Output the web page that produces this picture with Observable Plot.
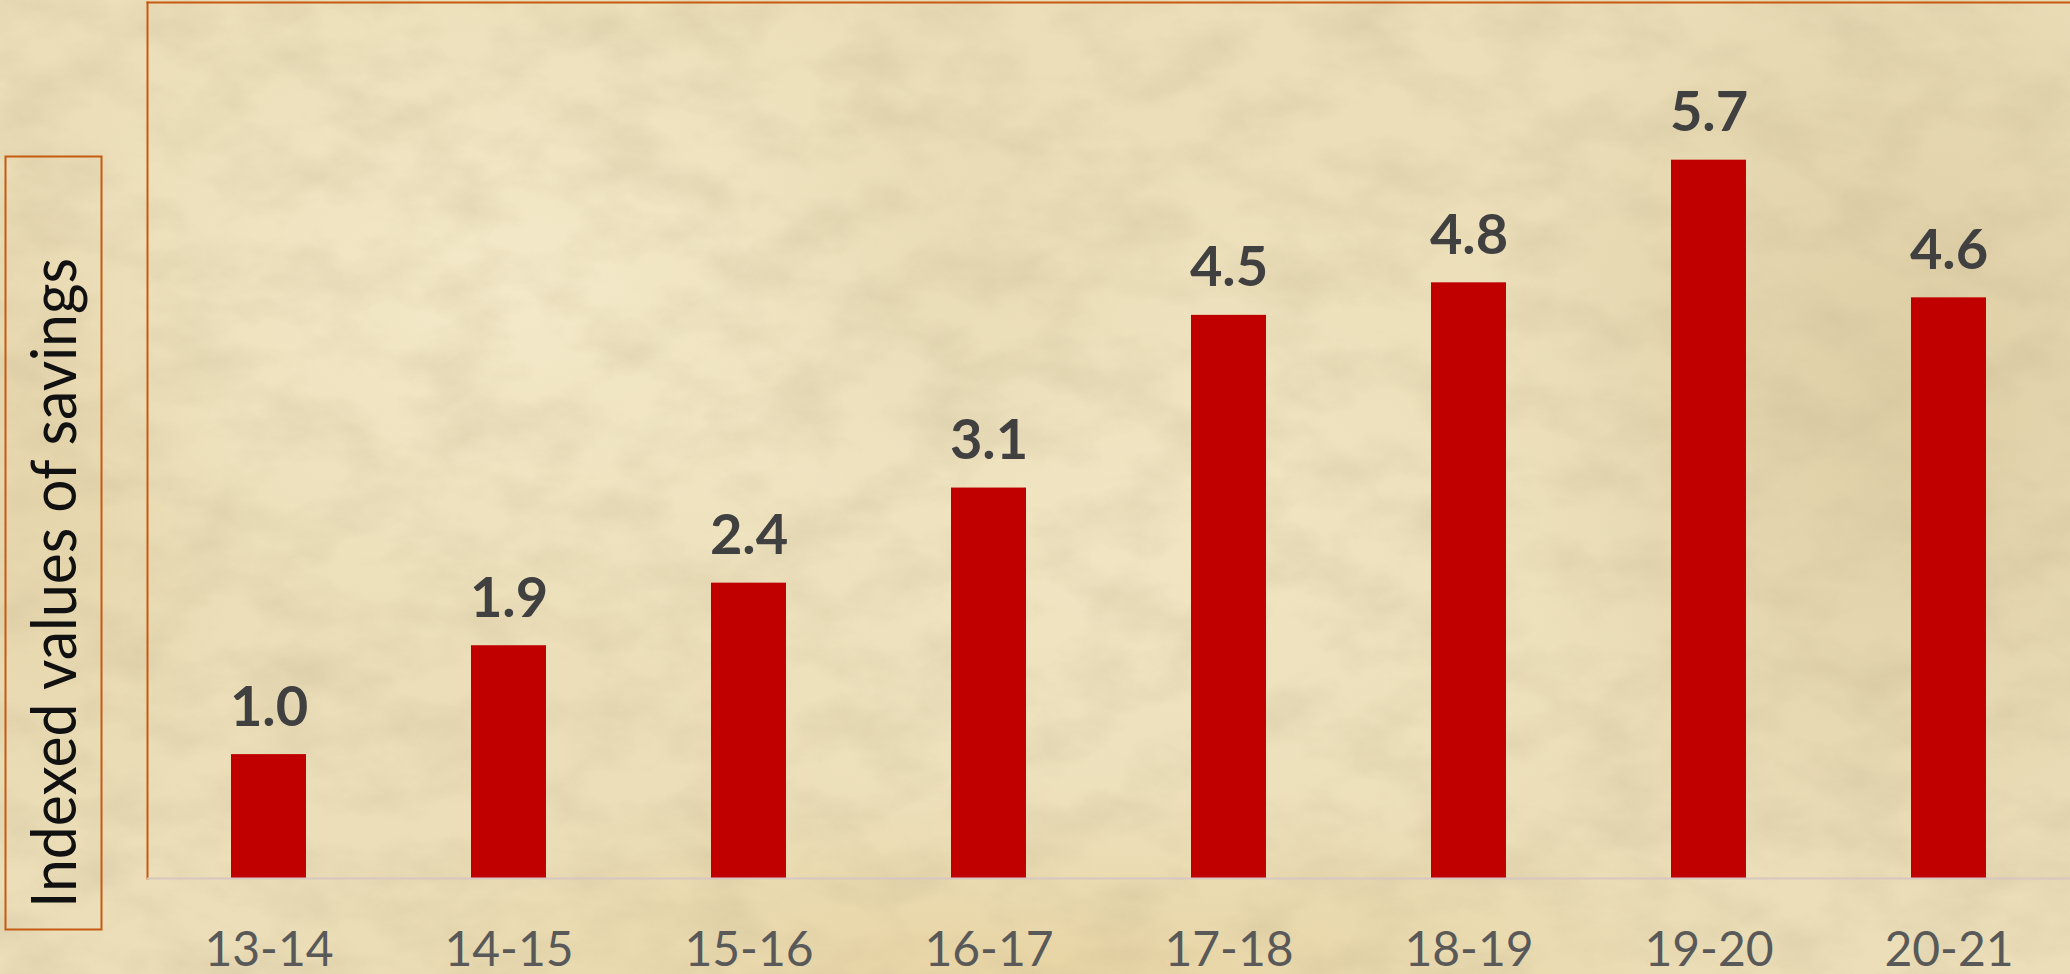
<!DOCTYPE html>
<html>
<head>
<meta charset="utf-8">
<script src="https://cdn.jsdelivr.net/npm/d3@7"></script>
<script src="https://cdn.jsdelivr.net/npm/@observablehq/plot@0.6"></script>
<style>
  html, body { margin: 0; padding: 0; }
  body {
    width: 2070px; height: 974px; overflow: hidden;
    background-color: #ebdeb8;
  }
  #bg {
    position: absolute; left: 0; top: 0; width: 2070px; height: 974px;
    background-image:
      radial-gradient(ellipse 520px 380px at 25% 30%, rgba(246,236,206,0.75), rgba(246,236,206,0) 100%),
      radial-gradient(ellipse 600px 420px at 55% 55%, rgba(244,233,202,0.6), rgba(244,233,202,0) 100%),
      radial-gradient(ellipse 420px 520px at 92% 40%, rgba(205,186,142,0.45), rgba(205,186,142,0) 100%),
      radial-gradient(ellipse 800px 200px at 50% 100%, rgba(230,208,155,0.65), rgba(230,208,155,0) 100%),
      radial-gradient(ellipse 250px 220px at 45% 30%, rgba(214,196,152,0.3), rgba(214,196,152,0) 100%),
      radial-gradient(ellipse 200px 400px at 2% 50%, rgba(225,205,160,0.5), rgba(225,205,160,0) 100%);
  }
  #noise { position: absolute; left: 0; top: 0; }
  #wrap { position: relative; width: 2070px; height: 974px; }
  #wrap > svg.plot, #wrap > svg.ov { position: absolute; left: 0; top: 0; }
</style>
</head>
<body>
<div id="wrap"><div id="bg"></div></div>
<script>
// ---- data ----
const categories = ["13-14", "14-15", "15-16", "16-17", "17-18", "18-19", "19-20", "20-21"];
const values = [0.99, 1.86, 2.36, 3.12, 4.50, 4.76, 5.74, 4.64];
const valueLabels = ["1.0", "1.9", "2.4", "3.1", "4.5", "4.8", "5.7", "4.6"];
const yTitle = "Indexed values of savings";
const yMax = 7;

const data = categories.map((c, i) => ({year: c, value: values[i], label: valueLabels[i]}));

// paper texture (decoration only)
const noise = d3.select("#wrap").append("svg").attr("id", "noise")
  .attr("width", 2070).attr("height", 974);
const f = noise.append("filter").attr("id", "paper").attr("x", 0).attr("y", 0).attr("width", "100%").attr("height", "100%");
f.append("feTurbulence").attr("type", "fractalNoise").attr("baseFrequency", "0.012 0.02").attr("numOctaves", 5).attr("seed", 7);
f.append("feColorMatrix").attr("values",
  "0 0 0 0 0.55  0 0 0 0 0.46  0 0 0 0 0.28  1.1 0 0 0 -0.42");
noise.append("rect").attr("width", 2070).attr("height", 974).attr("filter", "url(#paper)").attr("opacity", 0.55);

const orange = "#c55a11";
const font = "Lato, 'Open Sans', sans-serif";
const chart = Plot.plot({
  width: 2070,
  height: 974,
  marginLeft: 147,
  marginRight: 0,
  marginTop: 2,
  marginBottom: 96,
  style: {background: "transparent", fontFamily: font, overflow: "visible"},
  x: {domain: categories, paddingInner: 0.688, paddingOuter: 0.345, align: 0.5, label: null},
  y: {domain: [0, yMax], axis: null},
  marks: [
    Plot.frame({anchor: "left", stroke: orange, strokeWidth: 2}),
    Plot.frame({anchor: "top", stroke: orange, strokeWidth: 2}),
    Plot.barY(data, {x: "year", y: "value", fill: "#c00000"}),
    Plot.ruleY([0], {stroke: "#d8c6c0", strokeWidth: 2}),
    Plot.text(data, {
      x: "year", y: "value", text: "label",
      lineAnchor: "bottom", dy: -29,
      fontSize: 56, fontWeight: "bold", fill: "#404040", fontFamily: font
    }),
    Plot.axisX({tickSize: 0, tickPadding: 53, fontSize: 48, color: "#595959", label: null, fontFamily: font})
  ]
});
chart.classList.add("plot");
document.getElementById("wrap").appendChild(chart);

// y-axis title in a box, left of the plot
const ov = d3.select("#wrap").append("svg").attr("class", "ov")
  .attr("width", 110).attr("height", 974);
ov.append("rect")
  .attr("x", 5.5).attr("y", 156.5).attr("width", 96).attr("height", 773)
  .attr("fill", "none").attr("stroke", orange).attr("stroke-width", 2);
ov.append("text")
  .attr("transform", "translate(76,908) rotate(-90)")
  .attr("font-family", font)
  .attr("font-weight", 400)
  .attr("font-size", 62)
  .attr("fill", "#111")
  .attr("textLength", 650)
  .attr("lengthAdjust", "spacingAndGlyphs")
  .text(yTitle);
</script>
</body>
</html>
